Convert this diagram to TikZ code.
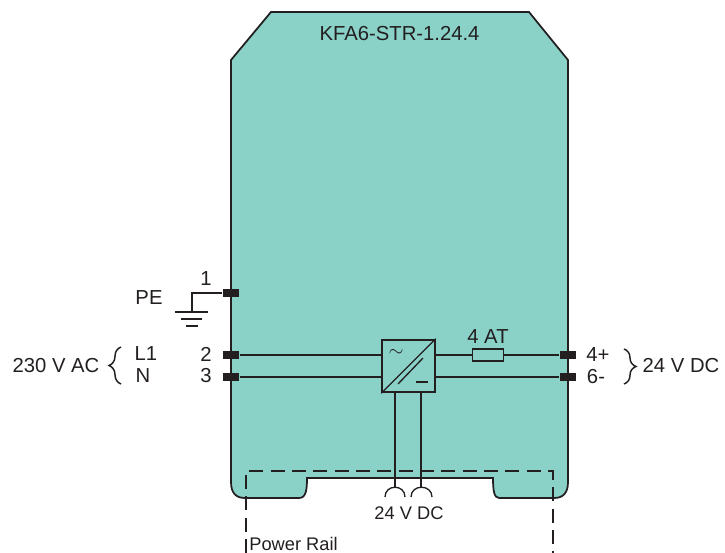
\documentclass[tikz,border=0pt]{standalone}
\usepackage{fontspec}
\setmainfont{Liberation Sans}
\usepackage{tikz}
\usetikzlibrary{decorations.pathreplacing}
\definecolor{gehaeuse}{HTML}{8AD1C8}
\definecolor{linie}{HTML}{231F20}

\begin{document}
\begin{tikzpicture}[x=0.75pt,y=-0.75pt,line width=1pt,draw=linie,text=linie,font=\fontsize{15.2}{17}\selectfont,
        klemme/.style={rectangle,fill=linie,draw=none,inner sep=0pt,minimum width=12pt,minimum height=6pt},
        wandler/.style={rectangle,draw=linie,line width=1.4pt,inner sep=0pt,minimum size=39.5pt},
        sicherung/.style={rectangle,draw=linie,inner sep=0pt,minimum width=23pt,minimum height=9pt},
        klammer/.style={decorate,decoration={brace,amplitude=9pt},line width=1.1pt},
        schiene/.style={line width=0.8pt,dash pattern=on 10.5pt off 5.5pt},
        klein/.style={font=\fontsize{13.7}{15}\selectfont,inner sep=0pt}]
      \useasboundingbox (0,0) rectangle (725,553);
      % housing
      \filldraw[fill=gehaeuse,draw=linie,line width=1.3pt]
      (271,12) -- (529,12) -- (568,60) -- (568,482)
      .. controls (568,493) and (563,498) .. (554,498) -- (499,498)
      .. controls (494,498) and (493,490) .. (493,478) -- (307,478)
      .. controls (307,490) and (306,498) .. (299,498) -- (245,498)
      .. controls (236,498) and (231,493) .. (231,482) -- (231,60) -- cycle;
      \node (typ) at (399.5,34) {KFA6-STR-1.24.4};
      % terminals
      \node [klemme] (k1) at (231,293) {};
      \node [klemme] (k2) at (231,355) {};
      \node [klemme] (k3) at (231,377) {};
      \node [klemme] (k4) at (568,355) {};
      \node [klemme] (k6) at (568,377) {};
      \node (n1) at (206,279) {1};
      \node (n2) at (206,354) {2};
      \node (n3) at (206,376) {3};
      \node (n4) at (598,355) {4+};
      \node (n6) at (596,377) {6-};
      \node (pe) at (149,298) {PE};
      \node (l1) at (146,354) {L1};
      \node (nn) at (143,376) {N};
      \node (ac) at (56,366) {230 V AC};
      \node (dc) at (681,366) {24 V DC};
      % converter and fuse
      \node [wandler] (conv) at (408.5,366) {};
      \node [sicherung] (fuse) at (488,355) {};
      \node (at) at (488,337) {4 AT};
      \node (tilde) at (396,353) {$\sim$};
      \coordinate (slashA) at (398,384);
      \coordinate (slashB) at (423,358);
      \coordinate (minusA) at (416,382);
      \coordinate (minusB) at (428,382);
      \draw (conv.south west) -- (conv.north east);
      \draw (slashA) -- (slashB);
      \draw (minusA) -- (minusB);
      \path[draw]
      (k2) -- (k2 -| conv.west)
      (k3) -- (k3 -| conv.west)
      (k4 -| conv.east) -- (fuse)
      (fuse) -- (k4)
      (k6 -| conv.east) -- (k6);
      % earth
      \coordinate (erde) at (192,312);
      \draw (k1) -| (erde);
      \coordinate (e1a) at (175,312);
      \coordinate (e1b) at (208,312);
      \coordinate (e2a) at (181,319);
      \coordinate (e2b) at (202,319);
      \coordinate (e3a) at (186,326);
      \coordinate (e3b) at (198,326);
      \draw (e1a) -- (e1b) (e2a) -- (e2b) (e3a) -- (e3b);
      % rail connection
      \coordinate (s1) at (395,487);
      \coordinate (s2) at (421,487);
      \draw (s1 |- conv.south) -- (s1);
      \draw (s2 |- conv.south) -- (s2);
      \draw (385,497) .. controls (385,484) and (405,484) .. (405,497);
      \draw (411,497) .. controls (411,484) and (432,484) .. (432,497);
      \node [klein] (v24) at (409,513) {24 V DC};
      \coordinate (railL) at (246,553);
      \coordinate (railLo) at (246,471);
      \coordinate (railRo) at (553,471);
      \coordinate (railR) at (553,553);
      \draw[schiene] (railL) -- (railLo) -- (railRo) -- (railR);
      \node [klein] (rail) at (293.5,544) {Power Rail};
      % braces
      \coordinate (b1) at (121,384);
      \coordinate (b2) at (121,347);
      \coordinate (b3) at (624,349);
      \coordinate (b4) at (624,384);
      \draw[klammer] (b1) -- (b2);
      \draw[klammer] (b3) -- (b4);
    \end{tikzpicture}
\end{document}
